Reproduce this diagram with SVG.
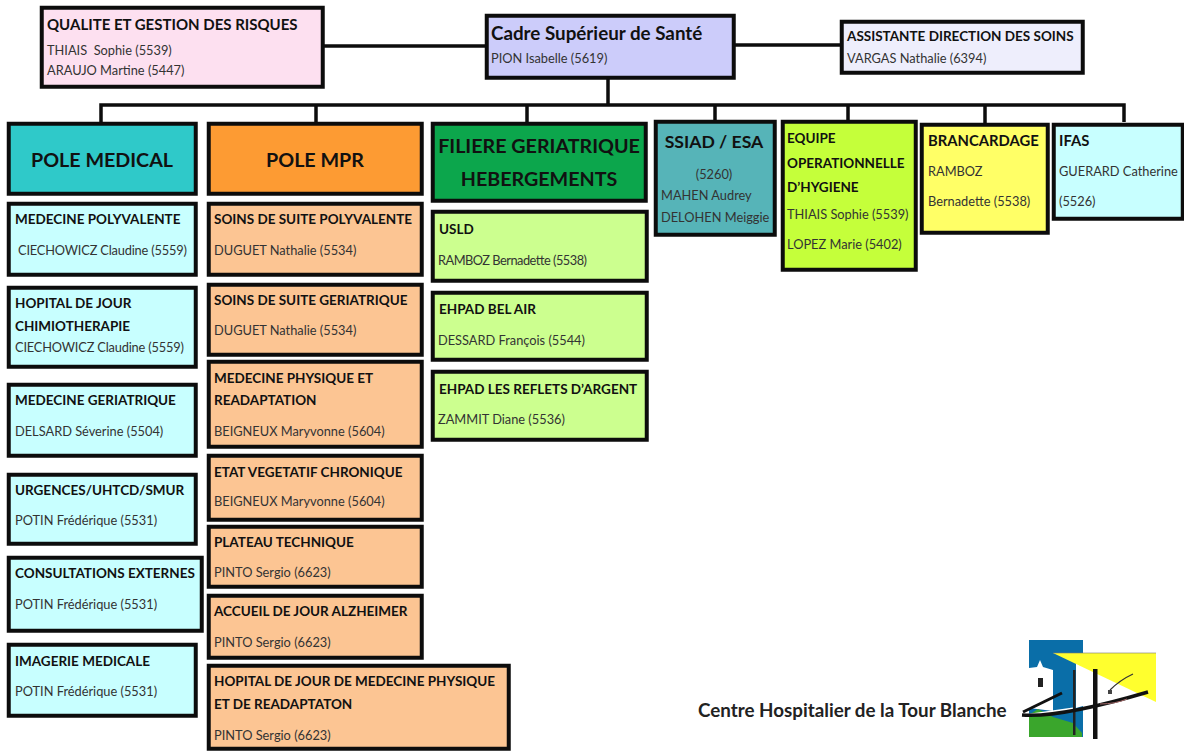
<svg xmlns="http://www.w3.org/2000/svg" width="1184" height="751" viewBox="0 0 1184 751">
<style>
text{font-family:Lato,"Open Sans","Liberation Sans",sans-serif;fill:#333}
.b{stroke:#0c0c0c;stroke-width:4}
.t{font-weight:700;font-size:13.500px;fill:#111}
.n{font-size:12.800px}
.h{font-weight:700;font-size:19.700px;fill:#111}
.c{text-anchor:middle}
.pk{fill:#fde0f0}.li{fill:#ccccfa}.as{fill:#eeeefc}.cy{fill:#c8ffff}.or{fill:#fcc593}.gr{fill:#ccff8f}
#connectors path{fill:none;stroke:#0c0c0c;stroke-width:3.500}
</style>
<rect width="1184" height="751" fill="#fff"/>
<g id="connectors">
<path d="M324 46H485M735 45H840M608 79V105M101 122V105H1124V122M316 105V122M527 105V122M715 105V120M848 105V120M985 105V123"/>
</g>
<g id="qualite"><rect class="b pk" x="41.750" y="7.750" width="281" height="79"/><text class="t" x="47" y="30" style="font-size:15px">QUALITE ET GESTION DES RISQUES</text><text class="n" x="47" y="55">THIAIS&#160; Sophie (5539)</text><text class="n" x="47" y="75">ARAUJO Martine (5447)</text></g>
<g id="cadre"><rect class="b li" x="486.750" y="15.750" width="247" height="62"/><text x="491" y="40" style="font-weight:700;font-size:18.800px;fill:#111">Cadre Supérieur de Santé</text><text class="n" x="491" y="63">PION Isabelle (5619)</text></g>
<g id="assistante"><rect class="b as" x="841.750" y="21.750" width="241" height="51"/><text class="t" x="847" y="41">ASSISTANTE DIRECTION DES SOINS</text><text class="n" x="847" y="63">VARGAS Nathalie (6394)</text></g>
<g id="pole-medical"><rect class="b" fill="#2fc9c9" x="8.750" y="123.750" width="187" height="70"/><text class="h c" x="102" y="167">POLE MEDICAL</text></g>
<g id="pole-mpr"><rect class="b" fill="#fd9b33" x="208.750" y="123.750" width="213" height="70"/><text class="h c" x="315" y="167">POLE MPR</text></g>
<g id="filiere"><rect class="b" fill="#0ca64c" x="432.750" y="123.750" width="213" height="77"/><text class="h c" x="539" y="153">FILIERE GERIATRIQUE</text><text class="h c" x="539" y="186">HEBERGEMENTS</text></g>
<g id="ssiad"><rect class="b" fill="#56b4b8" x="655.750" y="121.750" width="119" height="113"/><text class="c" x="714" y="148" style="font-weight:700;font-size:17.600px;fill:#111">SSIAD / ESA</text><text class="n c" x="714" y="179">(5260)</text><text class="n" x="661" y="200">MAHEN Audrey</text><text class="n" x="661" y="222">DELOHEN Meiggie</text></g>
<g id="equipe"><rect class="b" fill="#c5ff3a" x="782.750" y="121.750" width="133" height="148"/><text class="t" x="787" y="143">EQUIPE</text><text class="t" x="787" y="168">OPERATIONNELLE</text><text class="t" x="787" y="192">D’HYGIENE</text><text class="n" x="787" y="219">THIAIS Sophie (5539)</text><text class="n" x="787" y="249">LOPEZ Marie (5402)</text></g>
<g id="brancardage"><rect class="b" fill="#ffff66" x="921.750" y="124.750" width="126" height="108"/><text class="t" x="928" y="146" style="font-size:14.800px">BRANCARDAGE</text><text class="n" x="928" y="176">RAMBOZ</text><text class="n" x="928" y="206">Bernadette (5538)</text></g>
<g id="ifas"><rect class="b cy" x="1053.750" y="124.750" width="129" height="94"/><text class="t" x="1059" y="146" style="font-size:14.800px">IFAS</text><text class="n" x="1059" y="176">GUERARD Catherine</text><text class="n" x="1059" y="206">(5526)</text></g>
<g id="med-polyvalente"><rect class="b cy" x="8.750" y="203.750" width="187" height="71"/><text class="t" x="15" y="224">MEDECINE POLYVALENTE</text><text class="n" x="18" y="255" textLength="169">CIECHOWICZ Claudine (5559)</text></g>
<g id="hdj-chimio"><rect class="b cy" x="8.750" y="287.750" width="187" height="79"/><text class="t" x="15" y="308">HOPITAL DE JOUR</text><text class="t" x="15" y="331">CHIMIOTHERAPIE</text><text class="n" x="15" y="352" textLength="169">CIECHOWICZ Claudine (5559)</text></g>
<g id="med-geriatrique"><rect class="b cy" x="8.750" y="384.750" width="187" height="71"/><text class="t" x="15" y="405">MEDECINE GERIATRIQUE</text><text class="n" x="15" y="436">DELSARD Séverine (5504)</text></g>
<g id="urgences"><rect class="b cy" x="8.750" y="474.750" width="187" height="69"/><text class="t" x="15" y="495">URGENCES/UHTCD/SMUR</text><text class="n" x="15" y="525">POTIN Frédérique (5531)</text></g>
<g id="consultations"><rect class="b cy" x="8.750" y="557.750" width="193" height="73"/><text class="t" x="15" y="578">CONSULTATIONS EXTERNES</text><text class="n" x="15" y="609">POTIN Frédérique (5531)</text></g>
<g id="imagerie"><rect class="b cy" x="8.750" y="644.750" width="187" height="71"/><text class="t" x="15" y="666">IMAGERIE MEDICALE</text><text class="n" x="15" y="696">POTIN Frédérique (5531)</text></g>
<g id="ssr-polyvalente"><rect class="b or" x="208.750" y="203.750" width="213" height="71"/><text class="t" x="214" y="224">SOINS DE SUITE POLYVALENTE</text><text class="n" x="214" y="255">DUGUET Nathalie (5534)</text></g>
<g id="ssr-geriatrique"><rect class="b or" x="208.750" y="284.750" width="213" height="70"/><text class="t" x="214" y="305">SOINS DE SUITE GERIATRIQUE</text><text class="n" x="214" y="335">DUGUET Nathalie (5534)</text></g>
<g id="mpr"><rect class="b or" x="208.750" y="361.750" width="213" height="85"/><text class="t" x="214" y="383">MEDECINE PHYSIQUE ET</text><text class="t" x="214" y="405">READAPTATION</text><text class="n" x="214" y="436">BEIGNEUX Maryvonne (5604)</text></g>
<g id="evc"><rect class="b or" x="208.750" y="455.750" width="213" height="64"/><text class="t" x="214" y="477">ETAT VEGETATIF CHRONIQUE</text><text class="n" x="214" y="506">BEIGNEUX Maryvonne (5604)</text></g>
<g id="plateau"><rect class="b or" x="208.750" y="526.750" width="213" height="60"/><text class="t" x="214" y="547">PLATEAU TECHNIQUE</text><text class="n" x="214" y="577">PINTO Sergio (6623)</text></g>
<g id="alzheimer"><rect class="b or" x="208.750" y="595.750" width="213" height="62"/><text class="t" x="214" y="616">ACCUEIL DE JOUR ALZHEIMER</text><text class="n" x="214" y="647">PINTO Sergio (6623)</text></g>
<g id="hdj-mpr"><rect class="b or" x="208.750" y="665.750" width="300" height="83"/><text class="t" x="214" y="686">HOPITAL DE JOUR DE MEDECINE PHYSIQUE</text><text class="t" x="214" y="709">ET DE READAPTATON</text><text class="n" x="214" y="740">PINTO Sergio (6623)</text></g>
<g id="usld"><rect class="b gr" x="432.750" y="211.750" width="214" height="69"/><text class="t" x="439" y="234">USLD</text><text class="n" x="438" y="265" textLength="149">RAMBOZ Bernadette (5538)</text></g>
<g id="bel-air"><rect class="b gr" x="432.750" y="292.750" width="214" height="67"/><text class="t" x="439" y="314">EHPAD BEL AIR</text><text class="n" x="438" y="345">DESSARD François (5544)</text></g>
<g id="reflets"><rect class="b gr" x="432.750" y="371.750" width="214" height="68"/><text class="t" x="439" y="394">EHPAD LES REFLETS D’ARGENT</text><text class="n" x="438" y="424">ZAMMIT Diane (5536)</text></g>
<text x="698" y="717" style="font-weight:700;font-size:18.800px;fill:#222">Centre Hospitalier de la Tour Blanche</text>
<g id="logo">
<rect x="1029" y="640" width="54" height="97" fill="#0a6ea8"/>
<path d="M1029 668L1037 667L1040 660L1043 667L1053 670V711L1029 708Z" fill="#fff"/>
<path d="M1029 737V715L1038 709L1053 717L1073 723L1082 733V737Z" fill="#3aa62c"/>
<path d="M1076 663H1083V706L1076 708Z" fill="#fff"/>
<path d="M1024 716L1073 709" fill="none" stroke="#fff" stroke-width="3"/>
<path d="M1053 653H1156V702Z" fill="#ffff2e"/>
<path d="M1053 653H1156" fill="none" stroke="#777" stroke-width="0.600"/>
<rect x="1073" y="670" width="2.500" height="65" fill="#222"/>
<rect x="1093" y="669" width="4.500" height="70" fill="#111"/>
<rect x="1038" y="678" width="5" height="9" fill="#222"/>
<path d="M1022 715Q1060 718 1148 692" fill="none" stroke="#111" stroke-width="3.500"/>
<path d="M1023 712L1062 693" fill="none" stroke="#111" stroke-width="3"/>
<path d="M1100 704Q1115 704 1127 699" fill="none" stroke="#a56a6a" stroke-width="1"/>
<path d="M1110 690Q1120 680 1133 674" fill="none" stroke="#333" stroke-width="1.200"/>
<rect x="1108" y="690" width="4" height="4" fill="#444"/>
</g>
</svg>
